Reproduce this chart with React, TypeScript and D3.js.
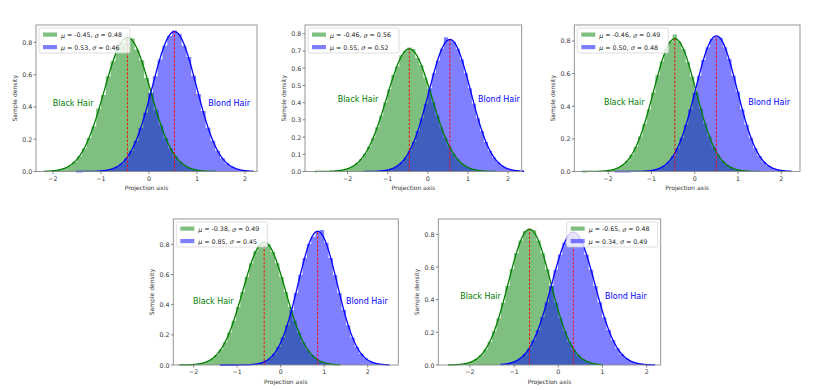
import React from 'react';
import * as d3 from 'd3';

// ---------- data ----------
const BIN_WIDTH = 0.1;

const MU_BLACK = [-0.45, -0.46, -0.46, -0.38, -0.65];
const SIGMA_BLACK = [0.48, 0.56, 0.49, 0.49, 0.48];
const MU_BLOND = [0.53, 0.55, 0.5, 0.85, 0.34];
const SIGMA_BLOND = [0.46, 0.52, 0.48, 0.45, 0.49];

// left edge of first histogram bin (projection axis units)
const BLACK_START = [-2.2, -2.81, -2.61, -2.33, -2.5];
const BLOND_START = [-1.52, -1.6, -1.85, -1.4, -1.31];

const HIST_BLACK_1 = [0.002, 0.003, 0.006, 0.012, 0.021, 0.036, 0.06, 0.095, 0.143, 0.207, 0.28, 0.39, 0.475, 0.59, 0.684, 0.77, 0.8, 0.835, 0.825, 0.755, 0.69, 0.58, 0.49, 0.381, 0.287, 0.207, 0.143, 0.095, 0.06, 0.036, 0.021, 0.012, 0.006, 0.003, 0.002, 0.001];
const HIST_BLOND_1 = [0.001, 0.001, 0.001, 0.001, 0.002, 0.004, 0.008, 0.016, 0.029, 0.05, 0.082, 0.128, 0.191, 0.272, 0.365, 0.485, 0.59, 0.695, 0.78, 0.84, 0.875, 0.855, 0.78, 0.71, 0.594, 0.48, 0.375, 0.272, 0.191, 0.128, 0.082, 0.05, 0.029, 0.016, 0.008, 0.004, 0.002];
const HIST_BLACK_2 = [0.001, 0.001, 0.001, 0.001, 0.002, 0.004, 0.007, 0.012, 0.02, 0.031, 0.048, 0.072, 0.104, 0.145, 0.196, 0.257, 0.326, 0.401, 0.478, 0.56, 0.61, 0.675, 0.7, 0.72, 0.71, 0.66, 0.617, 0.545, 0.478, 0.401, 0.326, 0.257, 0.196, 0.145, 0.104, 0.072, 0.048, 0.031, 0.02, 0.012, 0.007, 0.004, 0.002, 0.001, 0.001];
const HIST_BLOND_2 = [0.001, 0.001, 0.001, 0.002, 0.004, 0.007, 0.012, 0.02, 0.034, 0.054, 0.082, 0.121, 0.172, 0.235, 0.31, 0.394, 0.483, 0.571, 0.645, 0.713, 0.78, 0.765, 0.753, 0.713, 0.65, 0.571, 0.483, 0.394, 0.31, 0.235, 0.172, 0.121, 0.082, 0.054, 0.034, 0.02, 0.012, 0.007, 0.004, 0.002];
const HIST_BLACK_3 = [0.001, 0.001, 0.001, 0.001, 0.002, 0.004, 0.008, 0.014, 0.024, 0.041, 0.066, 0.101, 0.151, 0.215, 0.293, 0.38, 0.484, 0.59, 0.675, 0.749, 0.797, 0.84, 0.797, 0.749, 0.67, 0.583, 0.484, 0.385, 0.293, 0.215, 0.151, 0.101, 0.066, 0.041, 0.024, 0.014, 0.008, 0.004, 0.002, 0.001, 0.001];
const HIST_BLOND_3 = [0.001, 0.001, 0.001, 0.001, 0.001, 0.001, 0.002, 0.003, 0.006, 0.012, 0.021, 0.036, 0.06, 0.095, 0.143, 0.207, 0.287, 0.381, 0.483, 0.587, 0.684, 0.762, 0.813, 0.825, 0.82, 0.762, 0.69, 0.587, 0.49, 0.381, 0.287, 0.207, 0.143, 0.095, 0.06, 0.036, 0.021, 0.012, 0.006, 0.003, 0.002];
const HIST_BLACK_4 = [0.001, 0.001, 0.002, 0.004, 0.008, 0.014, 0.024, 0.041, 0.066, 0.101, 0.151, 0.215, 0.293, 0.385, 0.484, 0.583, 0.675, 0.755, 0.8, 0.805, 0.8, 0.749, 0.675, 0.583, 0.484, 0.385, 0.293, 0.215, 0.151, 0.101, 0.066, 0.041, 0.024, 0.014, 0.008, 0.004, 0.002];
const HIST_BLOND_4 = [0.001, 0.001, 0.001, 0.001, 0.001, 0.001, 0.002, 0.003, 0.007, 0.014, 0.025, 0.045, 0.075, 0.12, 0.183, 0.264, 0.364, 0.478, 0.597, 0.71, 0.803, 0.85, 0.88, 0.895, 0.81, 0.71, 0.597, 0.478, 0.364, 0.264, 0.183, 0.12, 0.075, 0.045, 0.025, 0.014, 0.007, 0.003, 0.002];
const HIST_BLACK_5 = [0.001, 0.002, 0.003, 0.006, 0.012, 0.021, 0.036, 0.06, 0.095, 0.143, 0.207, 0.287, 0.381, 0.483, 0.587, 0.684, 0.762, 0.82, 0.835, 0.825, 0.762, 0.684, 0.587, 0.483, 0.381, 0.287, 0.207, 0.143, 0.095, 0.06, 0.036, 0.021, 0.012, 0.006, 0.003];
const HIST_BLOND_5 = [0.004, 0.008, 0.014, 0.024, 0.041, 0.066, 0.101, 0.151, 0.215, 0.293, 0.385, 0.484, 0.583, 0.675, 0.749, 0.797, 0.814, 0.797, 0.749, 0.675, 0.583, 0.484, 0.385, 0.293, 0.215, 0.151, 0.101, 0.066, 0.041, 0.024, 0.014, 0.008, 0.004, 0.002, 0.001];

const BLACK_HISTS = [HIST_BLACK_1, HIST_BLACK_2, HIST_BLACK_3, HIST_BLACK_4, HIST_BLACK_5];
const BLOND_HISTS = [HIST_BLOND_1, HIST_BLOND_2, HIST_BLOND_3, HIST_BLOND_4, HIST_BLOND_5];

const BLACK_LABEL = 'Black Hair';
const BLOND_LABEL = 'Blond Hair';
const LABEL_X_BLACK = [-1.58, -1.74, -1.63, -1.55, -1.76];
const LABEL_X_BLOND = [1.67, 1.77, 1.72, 1.98, 1.53];
const LABEL_Y = 0.42;

const X_TICKS = [-2, -1, 0, 1, 2];
const Y_TICKS_1 = [0, 0.2, 0.4, 0.6, 0.8];
const Y_TICKS_2 = [0, 0.1, 0.2, 0.3, 0.4, 0.5, 0.6, 0.7, 0.8];
const Y_TICKS = [Y_TICKS_1, Y_TICKS_2, Y_TICKS_1, Y_TICKS_1, Y_TICKS_1];
const X_DOMAINS = [[-2.354, 2.25], [-3.06, 2.34], [-2.784, 2.434], [-2.469, 2.703], [-2.715, 2.317]];
const Y_MAX = [0.9085, 0.851, 0.898, 0.968, 0.894];

const X_LABEL = 'Projection axis';
const Y_LABEL = 'Sample density';

// ---------- layout ----------
const FRAMES = [
  { left: 36, right: 257, top: 25, bottom: 171.5 },
  { left: 305, right: 521.7, top: 25, bottom: 171.5 },
  { left: 574.3, right: 800, top: 25, bottom: 171.5 },
  { left: 173.3, right: 398.3, top: 219, bottom: 365 },
  { left: 438.3, right: 660.7, top: 219, bottom: 365 },
];
const LEGEND_RIGHT = [false, false, false, false, true];

const FONT = '"DejaVu Sans", sans-serif';
const GREEN = '#008000';
const BLUE = '#0000ff';

const pdf = (x: number, mu: number, s: number) =>
  Math.exp(-0.5 * ((x - mu) / s) ** 2) / (s * Math.sqrt(2 * Math.PI));

const fmtTick = (v: number, step: number) => {
  const s = step < 1 ? v.toFixed(1) : v.toFixed(0);
  return s.replace('-', '\u2212');
};

function Panel({ i }: { i: number }) {
  const f = FRAMES[i];
  const x = d3.scaleLinear().domain(X_DOMAINS[i]).range([f.left, f.right]);
  const y = d3.scaleLinear().domain([0, Y_MAX[i]]).range([f.bottom, f.top]);

  const histPath = (start: number, h: number[]) => {
    const pts: [number, number][] = h.map((v, k) => [start + k * BIN_WIDTH, v]);
    pts.push([start + h.length * BIN_WIDTH, h[h.length - 1]]);
    return d3
      .area<[number, number]>()
      .x((d) => x(d[0]))
      .y0(y(0))
      .y1((d) => y(d[1]))
      .curve(d3.curveStepAfter)(pts) as string;
  };
  const curvePath = (start: number, n: number, mu: number, s: number) => {
    const end = start + n * BIN_WIDTH;
    const xs = d3.range(start, end, 0.01).concat([end]);
    return d3
      .line<number>()
      .x((v) => x(v))
      .y((v) => y(pdf(v, mu, s)))(xs) as string;
  };

  const series = [
    { mu: MU_BLACK[i], s: SIGMA_BLACK[i], start: BLACK_START[i], h: BLACK_HISTS[i], color: GREEN },
    { mu: MU_BLOND[i], s: SIGMA_BLOND[i], start: BLOND_START[i], h: BLOND_HISTS[i], color: BLUE },
  ];

  const yt = Y_TICKS[i];
  const ystep = yt[1] - yt[0];

  const legW = 91;
  const legH = 25;
  const legX = LEGEND_RIGHT[i] ? f.right - 3 - legW : f.left + 3;
  const legY = f.top + 3;

  return (
    <g>
      {series.map((s, k) => (
        <path key={'h' + k} d={histPath(s.start, s.h)} fill={s.color} fillOpacity={0.5} stroke="none" />
      ))}
      {series.map((s, k) => (
        <path key={'c' + k} d={curvePath(s.start, s.h.length, s.mu, s.s)} fill="none" stroke={s.color} strokeWidth={1.3} />
      ))}
      {series.map((s, k) => (
        <line
          key={'m' + k}
          x1={x(s.mu)}
          x2={x(s.mu)}
          y1={y(0)}
          y2={y(pdf(s.mu, s.mu, s.s))}
          stroke="#ff0000"
          strokeWidth={0.9}
          strokeDasharray="2.6,1.6"
        />
      ))}
      <text x={x(LABEL_X_BLACK[i])} y={y(LABEL_Y)} fill={GREEN} fontSize={8} fontFamily={FONT} textAnchor="middle" dominantBaseline="central">
        {BLACK_LABEL}
      </text>
      <text x={x(LABEL_X_BLOND[i])} y={y(LABEL_Y)} fill={BLUE} fontSize={8} fontFamily={FONT} textAnchor="middle" dominantBaseline="central">
        {BLOND_LABEL}
      </text>

      {/* frame */}
      <rect x={f.left} y={f.top} width={f.right - f.left} height={f.bottom - f.top} fill="none" stroke="#8c8c8c" strokeWidth={0.9} />

      {/* x ticks */}
      {X_TICKS.map((t) => (
        <g key={'xt' + t}>
          <line x1={x(t)} x2={x(t)} y1={f.bottom} y2={f.bottom + 2.5} stroke="#555" strokeWidth={0.7} />
          <text x={x(t)} y={f.bottom + 9.2} fontSize={6.3} fontFamily={FONT} fill="#333" textAnchor="middle">
            {fmtTick(t, 1)}
          </text>
        </g>
      ))}
      {/* y ticks */}
      {yt.map((t) => (
        <g key={'yt' + t}>
          <line x1={f.left - 2.5} x2={f.left} y1={y(t)} y2={y(t)} stroke="#555" strokeWidth={0.7} />
          <text x={f.left - 3.8} y={y(t)} fontSize={6.3} fontFamily={FONT} fill="#333" textAnchor="end" dominantBaseline="central">
            {fmtTick(t, ystep)}
          </text>
        </g>
      ))}
      <text x={(f.left + f.right) / 2} y={f.bottom + 18.5} fontSize={6} fontFamily={FONT} fill="#333" textAnchor="middle">
        {X_LABEL}
      </text>
      <text
        transform={`translate(${f.left - 22},${(f.top + f.bottom) / 2}) rotate(-90)`}
        fontSize={6}
        fontFamily={FONT}
        fill="#333"
        textAnchor="middle"
        dominantBaseline="central"
      >
        {Y_LABEL}
      </text>

      {/* legend */}
      <rect x={legX} y={legY} width={legW} height={legH} rx={1.5} fill="#fff" fillOpacity={0.8} stroke="#d0d0d0" strokeWidth={0.7} />
      {series.map((s, k) => {
        const cy = legY + 6.5 + k * 12.5;
        return (
          <g key={'lg' + k}>
            <rect x={legX + 4} y={cy - 2} width={14} height={4.2} fill={s.color} fillOpacity={0.5} />
            <text x={legX + 22} y={cy} fontSize={6.3} fontFamily={FONT} fill="#222" dominantBaseline="central">
              <tspan fontStyle="italic">μ</tspan>
              {` = ${s.mu.toFixed(2)}, `}
              <tspan fontStyle="italic">σ</tspan>
              {` = ${s.s.toFixed(2)}`}
            </text>
          </g>
        );
      })}
    </g>
  );
}

export default function App() {
  return (
    <svg
      width={830}
      height={390}
      viewBox="0 0 830 390"
      style={{ position: 'absolute', left: 0, top: 0, background: '#fff' }}
    >
      <rect x={0} y={0} width={830} height={390} fill="#fff" />
      {FRAMES.map((_, i) => (
        <Panel key={i} i={i} />
      ))}
    </svg>
  );
}
